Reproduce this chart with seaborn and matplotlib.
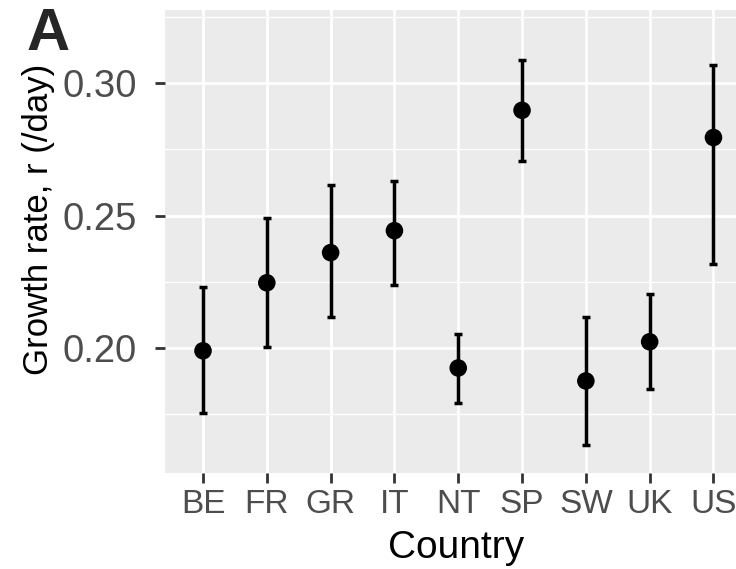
import numpy as np
import pandas as pd
import matplotlib
matplotlib.use("Agg")
import matplotlib.pyplot as plt
import seaborn as sns
from matplotlib.ticker import MultipleLocator, FormatStrFormatter

# ---- data ----
countries = ["BE", "FR", "GR", "IT", "NT", "SP", "SW", "UK", "US"]
rate = [0.1989, 0.2246, 0.2360, 0.2443, 0.1924, 0.2898, 0.1875, 0.2023, 0.2795]
lower = [0.1754, 0.2004, 0.2117, 0.2239, 0.1792, 0.2708, 0.1633, 0.1845, 0.2318]
upper = [0.2231, 0.2492, 0.2617, 0.2629, 0.2053, 0.3087, 0.2117, 0.2205, 0.3068]

df = pd.DataFrame({"Country": countries, "r": rate, "lo": lower, "hi": upper})

sns.set_theme(style="darkgrid", rc={
    "axes.facecolor": "#EBEBEB",
    "grid.color": "white",
})
plt.rcParams["font.family"] = ["Liberation Sans", "DejaVu Sans"]

fig = plt.figure(figsize=(7.36, 5.69), dpi=100)
# panel runs past the right edge as in the reference
ax = fig.add_axes([0.2238, 0.1687, 0.7976, 0.8137])

yerr = np.array([df["r"] - df["lo"], df["hi"] - df["r"]])
ax.errorbar(df["Country"], df["r"], yerr=yerr, fmt="none", ecolor="black",
            elinewidth=2.5, capsize=3, capthick=2.5, zorder=3)
sns.scatterplot(data=df, x="Country", y="r", color="black", s=160,
                edgecolor="none", ax=ax, zorder=4)

ax.set_xlim(-0.6, 8.6)
ax.set_ylim(0.1527, 0.3277)
ax.yaxis.set_major_locator(MultipleLocator(0.05))
ax.yaxis.set_minor_locator(MultipleLocator(0.025))
ax.grid(which="major", color="white", linewidth=2.0)
ax.grid(which="minor", axis="y", color="white", linewidth=1.0)
ax.set_axisbelow(True)
for s in ax.spines.values():
    s.set_visible(False)

ax.yaxis.set_major_formatter(FormatStrFormatter("%.2f"))
ax.tick_params(axis="y", which="major", labelsize=27.5, colors="#333333",
               labelcolor="#4D4D4D", length=7, width=2, left=True, pad=13)
ax.tick_params(axis="x", which="major", labelsize=24, colors="#333333",
               labelcolor="#4D4D4D", length=7, width=2, bottom=True, pad=4.5)
ax.tick_params(which="minor", left=False)

ax.set_xlabel("Country", fontsize=28, color="black")
ax.set_ylabel("Growth rate, r (/day)", fontsize=25, color="black")
ax.xaxis.set_label_coords(0.497, -0.123)
ax.yaxis.set_label_coords(-0.1874, 0.548)

fig.text(0.0367, 0.988, "A", fontsize=43, fontweight="bold", va="top", ha="left")

fig.savefig("out.png", dpi=100)
